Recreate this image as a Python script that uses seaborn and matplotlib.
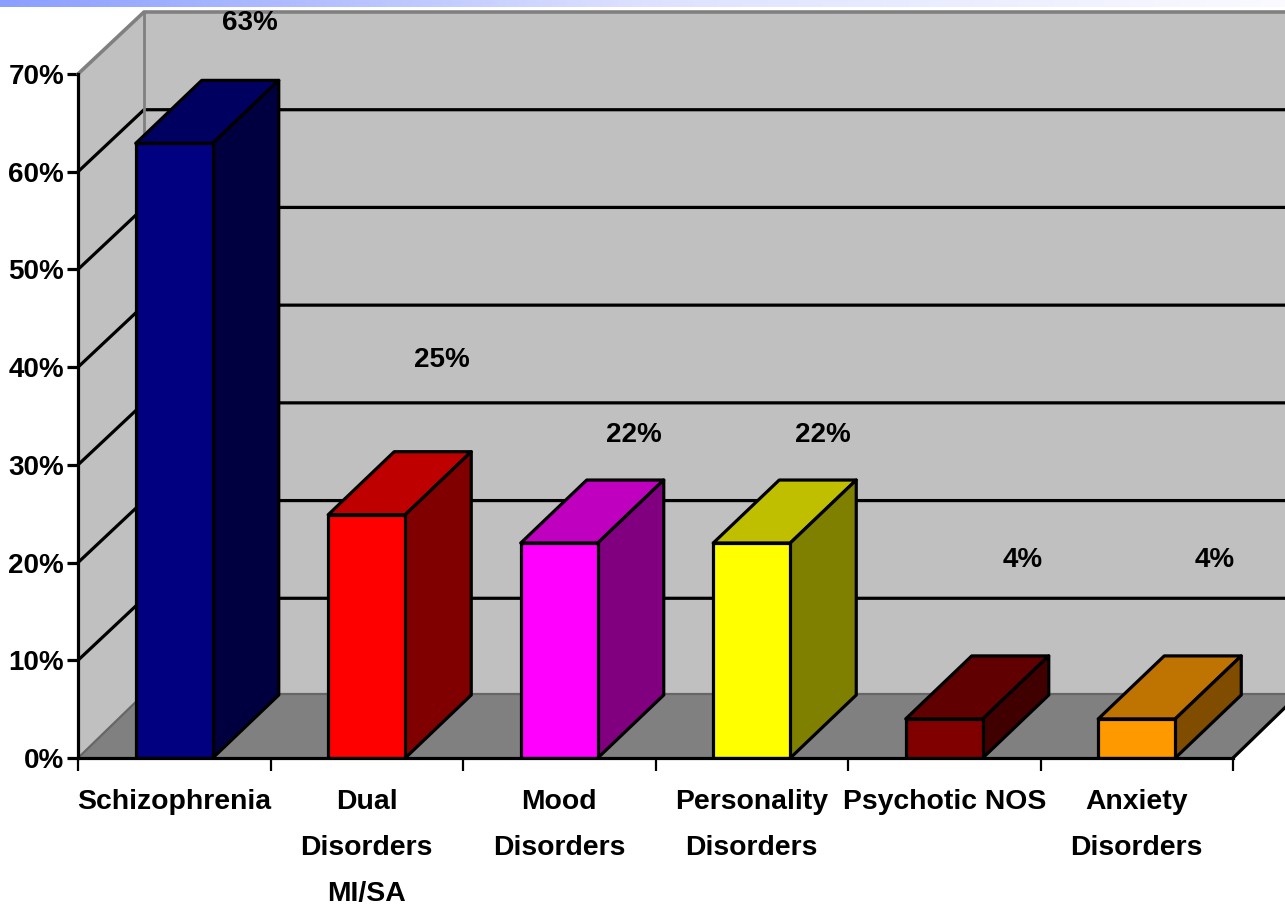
import numpy as np
import seaborn as sns
from matplotlib import pyplot as plt
from matplotlib.colors import LinearSegmentedColormap, to_rgb
from matplotlib.patches import Polygon

categories = ["Schizophrenia", "Dual\nDisorders\nMI/SA", "Mood\nDisorders",
              "Personality\nDisorders", "Psychotic NOS", "Anxiety\nDisorders"]
values = [62.9, 24.9, 22, 22, 4, 4]
value_labels = ["63%", "25%", "22%", "22%", "4%", "4%"]
y_ticks = [0, 10, 20, 30, 40, 50, 60, 70]
front_colors = ["#000080", "#FF0000", "#FF00FF", "#FFFF00", "#800000", "#FF9900"]

# where the labels sit in the picture, in pixels
label_px = [(250, 23), (442, 360), (634, 435), (823, 435), (1023, 560), (1215, 560)]

W, H = 1285, 906
LEFT, RIGHT, BOTTOM, TOP = 78, 1233, 758, 74
LW = 2.3
FS = 20

sns.set_theme(style="white")
plt.rcParams['font.family'] = ['Liberation Sans', 'DejaVu Sans']
plt.rcParams['font.weight'] = 'bold'

fig = plt.figure(figsize=(W / 100, H / 100), dpi=100)
ax = fig.add_axes([LEFT / W, 1 - BOTTOM / H, (RIGHT - LEFT) / W, (BOTTOM - TOP) / H])

sns.barplot(x=categories, y=values, hue=categories, palette=front_colors, width=0.4,
            saturation=1, edgecolor="black", linewidth=LW, legend=False, zorder=6, ax=ax)

ax.set_xlim(-0.5, 5.5)
ax.set_ylim(0, 70)

# depth of the fake 3d box, in data units
dx = 66 / ((RIGHT - LEFT) / 6)
dy = 62 / ((BOTTOM - TOP) / 70)
floor_dy = 64 / ((BOTTOM - TOP) / 70)
bar_dy = 63 / ((BOTTOM - TOP) / 70)

# walls and floor
ax.add_patch(Polygon([(-0.5, 0), (-0.5, 70), (-0.5 + dx, 70 + dy), (-0.5 + dx, dy)],
                     fc="#C0C0C0", ec="none", clip_on=False, zorder=1))
ax.add_patch(Polygon([(-0.5 + dx, dy), (-0.5 + dx, 70 + dy), (5.5 + dx, 70 + dy), (5.5 + dx, dy)],
                     fc="#C0C0C0", ec="none", clip_on=False, zorder=1))
ax.add_patch(Polygon([(-0.5, 0), (5.5, 0), (5.5 + dx, floor_dy), (-0.5 + dx, floor_dy)],
                     fc="#808080", ec="none", clip_on=False, zorder=2))

# gridlines run along the left wall and then the back wall
for t in y_ticks[1:-1]:
    ax.plot([-0.5, -0.5 + dx, 5.5 + dx], [t, t + dy, t + dy], color="black", lw=LW,
            clip_on=False, zorder=3)
ax.plot([-0.5, -0.5 + dx, 5.5 + dx], [70, 70 + dy, 70 + dy], color="#808080", lw=2.6,
        clip_on=False, zorder=3)
ax.plot([-0.5 + dx, -0.5 + dx], [floor_dy, 70 + dy], color="#808080", lw=2, clip_on=False, zorder=3)
ax.plot([-0.5, -0.5 + dx, 5.5 + dx], [0, floor_dy, floor_dy], color="#666666", lw=1.6,
        clip_on=False, zorder=3)
ax.plot([5.5, 5.5 + dx], [0, floor_dy], color="black", lw=LW, clip_on=False, zorder=4)

# top and side faces of each bar
for bar, color in zip(ax.patches, front_colors):
    x0, x1 = bar.get_x(), bar.get_x() + bar.get_width()
    h = bar.get_height()
    rgb = np.array(to_rgb(color))
    ax.add_patch(Polygon([(x0, h), (x1, h), (x1 + dx, h + bar_dy), (x0 + dx, h + bar_dy)],
                         fc=rgb * 0.75, ec="black", lw=LW, clip_on=False, zorder=5, joinstyle="round"))
    ax.add_patch(Polygon([(x1, 0), (x1, h), (x1 + dx, h + bar_dy), (x1 + dx, bar_dy)],
                         fc=rgb * 0.5, ec="black", lw=LW, clip_on=False, zorder=5, joinstyle="round"))

for lab, (px, py) in zip(value_labels, label_px):
    fig.text(px / W, 1 - py / H, lab, ha="center", va="center", fontsize=FS,
             fontweight="bold", color="black", zorder=10)

for side in ["top", "right"]:
    ax.spines[side].set_visible(False)
for side in ["left", "bottom"]:
    ax.spines[side].set_linewidth(LW)
    ax.spines[side].set_color("black")
    ax.spines[side].set_zorder(8)

ax.set_yticks(y_ticks)
ax.set_yticklabels([f"{t}%" for t in y_ticks], fontsize=FS, fontweight="bold", color="black")
ax.tick_params(axis="y", left=True, length=8, width=LW, color="black", pad=2)

ax.set_xticks(np.arange(-0.5, 6, 1))
ax.set_xticklabels([])
ax.set_xticks(np.arange(6), minor=True)
ax.set_xticklabels(categories, minor=True, fontsize=20.4, fontweight="bold", color="black",
                   linespacing=2.02)
ax.tick_params(axis="x", which="major", bottom=True, length=9.5, width=1.6, color="black")
ax.tick_params(axis="x", which="minor", bottom=False, length=0, pad=22)
for lab in ax.get_xticklabels(minor=True):
    lab.set_verticalalignment("top")

# blue strip along the top edge
strip = fig.add_axes([0, 1 - 7 / H, 1, 7 / H], zorder=20)
strip_cmap = LinearSegmentedColormap.from_list("strip", ["#8A9EFF", "#DDE1FF", "#FAFAFF"])
strip.imshow(np.linspace(0, 1, 256)[None, :], aspect="auto", cmap=strip_cmap)
strip.axis("off")

plt.savefig("out.png", dpi=100)
